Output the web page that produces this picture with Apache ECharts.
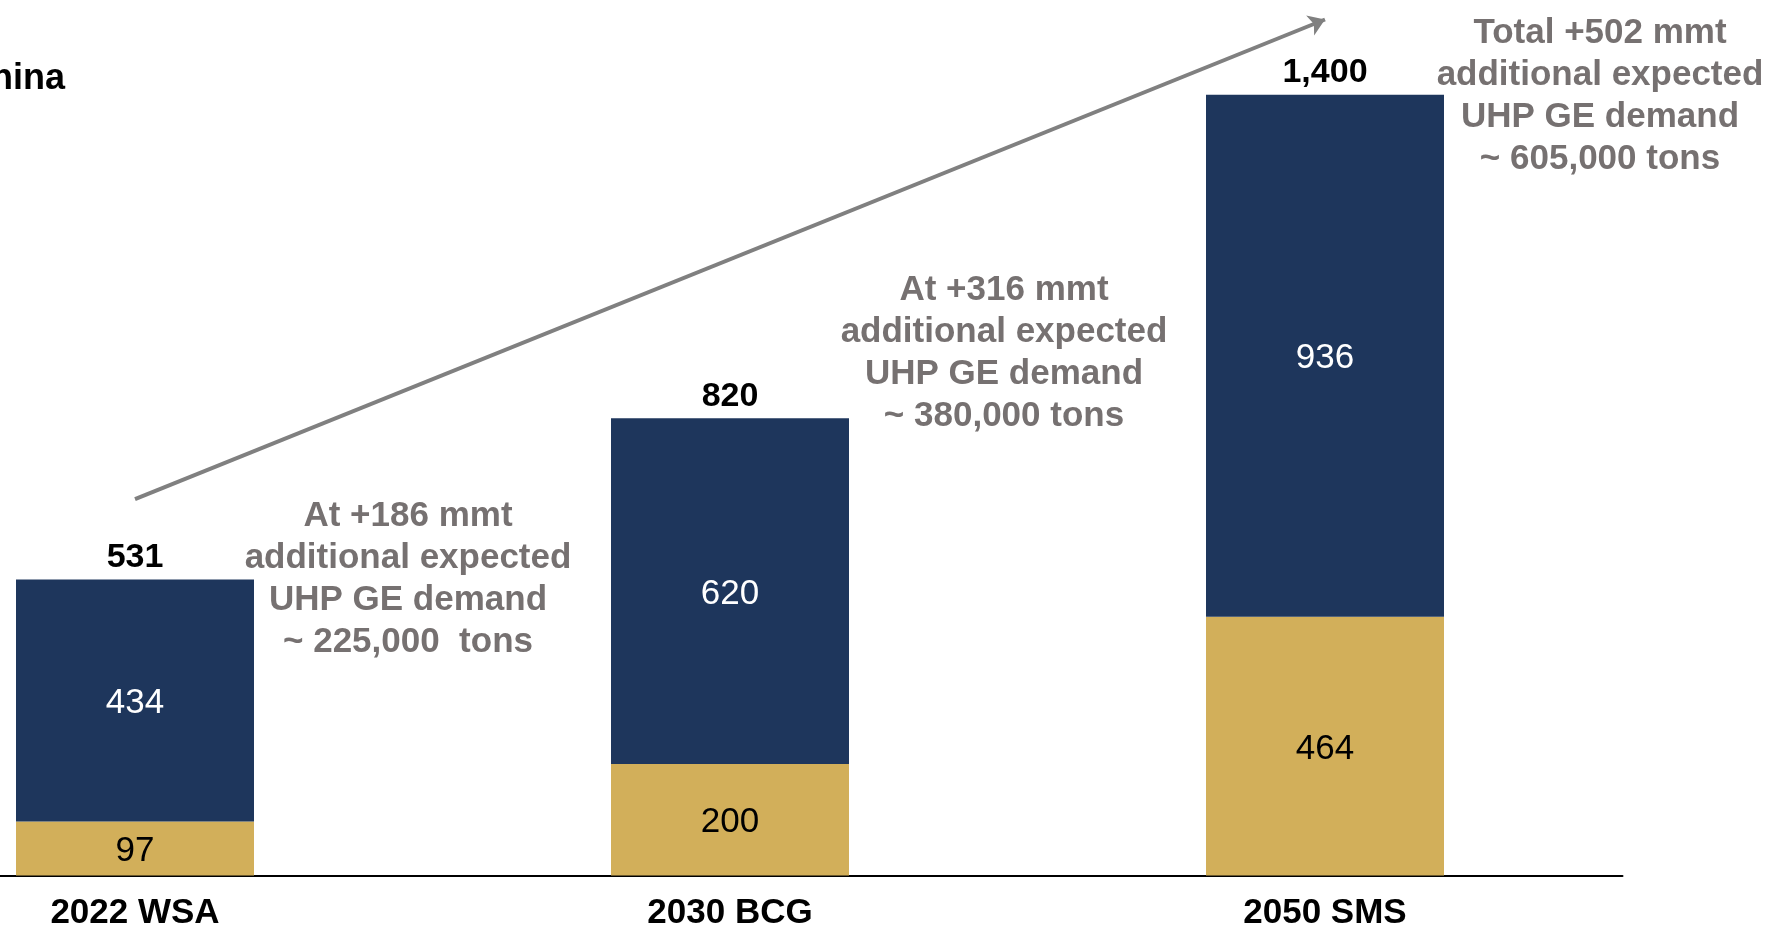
<!DOCTYPE html>
<html>
<head>
<meta charset="utf-8">
<script src="https://cdn.jsdelivr.net/npm/echarts@6/dist/echarts.min.js"></script>
<style>
html,body{margin:0;padding:0;background:#fff;}
#chart{width:1775px;height:932px;}
</style>
</head>
<body>
<div id="chart"></div>
<script>
const categories = ['2022 WSA', '2030 BCG', '2050 SMS'];
const goldValues = [97, 200, 464];
const navyValues = [434, 620, 936];
const totalLabels = ['531', '820', '1,400'];
const arrowFrom = [0, 675];
const arrowTo = [2, 1535];
const legendText = 'China';
const notes = [
  ['At +186 mmt', 'additional expected', 'UHP GE demand', '~ 225,000  tons'],
  ['At +316 mmt', 'additional expected', 'UHP GE demand', '~ 380,000 tons'],
  ['Total +502 mmt', 'additional expected', 'UHP GE demand', '~ 605,000 tons']
];
const totals = goldValues.map((g, i) => g + navyValues[i]);

const FONT = '"Liberation Sans", Arial, sans-serif';
const NAVY = '#1E365C';
const GOLD = '#D2AF5A';
const GREY = '#767171';

const chart = echarts.init(document.getElementById('chart'));
const notePos = [[408, 579], [1004, 353], [1600, 96]];

chart.setOption({
  animation: false,
  grid: { left: -162.5, right: 152.5, top: 0, bottom: 56.5, containLabel: false, outerBoundsMode: 'none' },
  xAxis: {
    type: 'category',
    data: categories,
    axisLine: { show: true, lineStyle: { color: '#000', width: 2 } },
    axisTick: { show: false },
    axisLabel: { margin: 20, color: '#000', fontFamily: FONT, fontWeight: 'bold', fontSize: 35 }
  },
  yAxis: { type: 'value', min: 0, max: 1570, show: false, splitLine: { show: false } },
  series: [
    {
      name: 'gold', type: 'bar', stack: 's', barWidth: 238,
      data: goldValues,
      itemStyle: { color: GOLD },
      label: { show: true, position: 'inside', offset: [0, 3], color: '#000', fontFamily: FONT, fontSize: 35 }
    },
    {
      name: 'navy', type: 'bar', stack: 's', barWidth: 238,
      data: navyValues,
      itemStyle: { color: NAVY },
      label: { show: true, position: 'inside', offset: [0, 3], color: '#fff', fontFamily: FONT, fontSize: 35 },
      markLine: {
        silent: true,
        symbol: ['none', 'arrow'],
        symbolSize: 16,
        label: { show: false },
        lineStyle: { color: '#808080', width: 4, type: 'solid' },
        data: [[{ coord: arrowFrom }, { coord: arrowTo }]]
      }
    },
    {
      name: 'total', type: 'line',
      data: totals,
      symbol: 'circle', symbolSize: 2,
      itemStyle: { color: 'rgba(0,0,0,0)' },
      lineStyle: { width: 0, color: 'rgba(0,0,0,0)' },
      label: {
        show: true, position: 'top', distance: 4,
        color: '#000', fontFamily: FONT, fontWeight: 'bold', fontSize: 34,
        formatter: p => totalLabels[p.dataIndex]
      }
    }
  ],
  graphic: [
    {
      type: 'text', x: 65, y: 79,
      style: { text: legendText, font: 'bold 36px ' + FONT, fill: '#000', textAlign: 'right', textVerticalAlign: 'middle' }
    }
  ].concat(notes.map((lines, i) => ({
    type: 'text', x: notePos[i][0], y: notePos[i][1],
    style: {
      text: lines.join('\n'), font: 'bold 35px ' + FONT, fill: GREY,
      textAlign: 'center', textVerticalAlign: 'middle', lineHeight: 42
    }
  })))
});
</script>
</body>
</html>
